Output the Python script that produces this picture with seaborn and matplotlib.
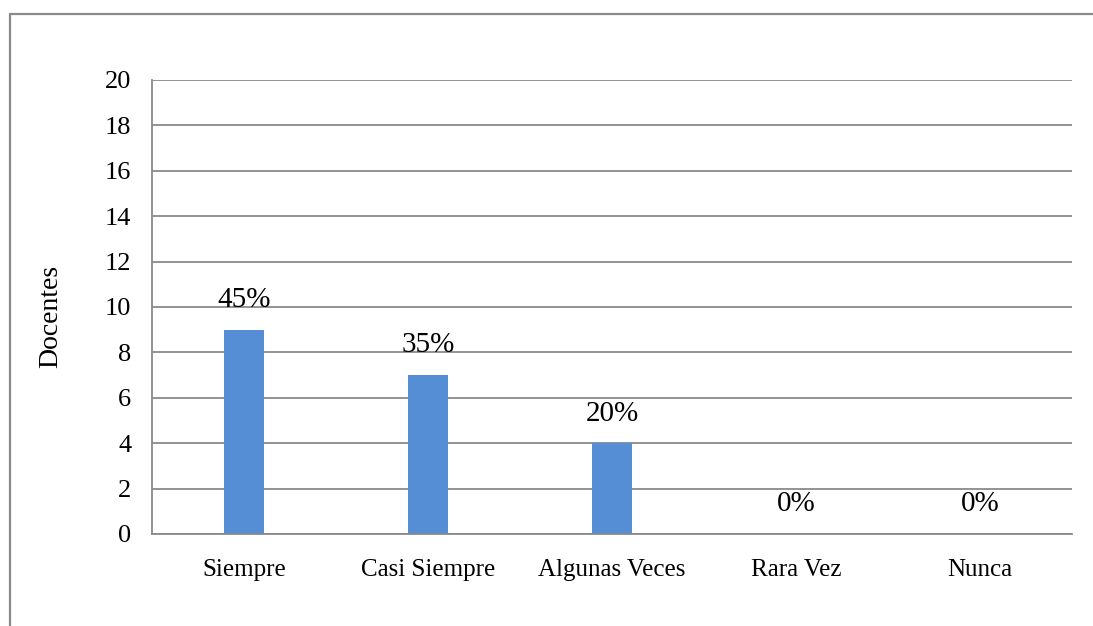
import pandas as pd
import seaborn as sns
import matplotlib.pyplot as plt
from matplotlib.lines import Line2D

categorias = ['Siempre', 'Casi Siempre', 'Algunas Veces', 'Rara Vez', 'Nunca']
docentes = [9, 7, 4, 0, 0]
porcentajes = ['45%', '35%', '20%', '0%', '0%']
yticks = list(range(0, 21, 2))

sns.set_style('white')
plt.rcParams['font.family'] = ['Liberation Serif', 'DejaVu Serif']
plt.rcParams['text.color'] = 'black'
plt.rcParams['xtick.labelcolor'] = 'black'
plt.rcParams['ytick.labelcolor'] = 'black'
plt.rcParams['axes.labelcolor'] = 'black'

df = pd.DataFrame({'categoria': categorias, 'docentes': docentes})

gris = '#8a8a8a'
fig = plt.figure(figsize=(10.93, 6.26), dpi=100)
ax = fig.add_axes([152 / 1093, 1 - 534 / 626, 920 / 1093, 454 / 626])

sns.barplot(data=df, x='categoria', y='docentes', color='#558ed5',
            saturation=1, width=0.22, linewidth=0, ax=ax)

ax.set_ylim(0, 20)
ax.set_xlim(-0.5, len(categorias) - 0.5)
ax.set_yticks(yticks)
ax.yaxis.grid(True, color=gris, linewidth=1.3)
ax.set_axisbelow(True)

# etiquetas de porcentaje
for i, (v, p) in enumerate(zip(docentes, porcentajes)):
    ax.annotate(p, (i, v), xytext=(0, 12), textcoords='offset points',
                ha='center', va='bottom', fontsize=21, color='black')

for s in ['top', 'right']:
    ax.spines[s].set_visible(False)
for s in ['left', 'bottom']:
    ax.spines[s].set_color(gris)
    ax.spines[s].set_linewidth(1.3)

ax.tick_params(axis='y', length=6, width=1.3, color=gris, pad=9, labelsize=19)
ax.set_xticks([i - 0.5 for i in range(len(categorias) + 1)], minor=True)
ax.tick_params(axis='x', which='minor', length=6, width=1.3, color=gris, direction='out')
ax.tick_params(axis='x', which='major', length=0, pad=18, labelsize=18)
ax.set_xlabel('')
ax.set_ylabel('Docentes', fontsize=20, color='black')
ax.yaxis.set_label_coords(-0.096, 0.48)

# marco exterior
fig.add_artist(Line2D([10 / 1093, 1.01], [1 - 14 / 626] * 2, transform=fig.transFigure,
                      color=gris, linewidth=1.6))
fig.add_artist(Line2D([10 / 1093] * 2, [1 - 14 / 626, -0.01], transform=fig.transFigure,
                      color=gris, linewidth=1.6))

fig.savefig('out.png', dpi=100)
